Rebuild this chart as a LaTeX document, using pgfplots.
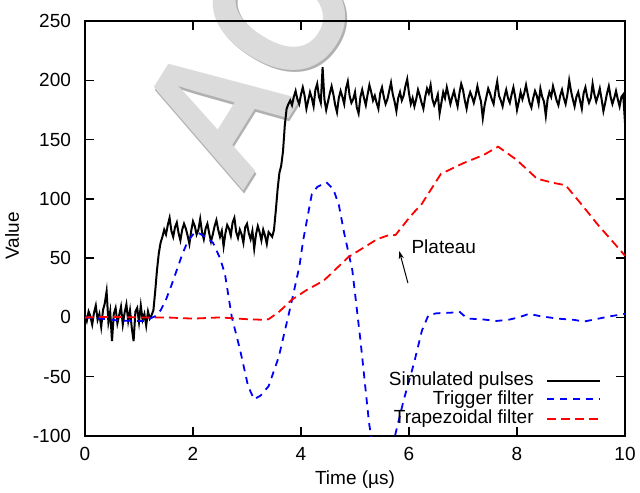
\documentclass[border=0pt]{standalone}
\usepackage{pgfplots}
\usepackage{pgfplotstable}
\pgfplotsset{compat=1.18}
\usetikzlibrary{arrows.meta}
\usepackage{fontspec}
\setmainfont{Liberation Sans}

% simulated detector pulse, sampled every 1/30 us
\pgfplotstableread[row sep=\\]{
y\\
2\\ -3\\ 5\\ 1\\ -6\\ 4\\ 10\\ -2\\ 3\\ -8\\
6\\ 12\\ 22\\ -4\\ 5\\ -20\\ 3\\ 8\\ -5\\ 2\\
9\\ -6\\ 4\\ 11\\ -3\\ 6\\ -9\\ -20\\ 5\\ 8\\
-4\\ 10\\ -2\\ 3\\ -7\\ 5\\ -1\\ 2\\
6\\ 22\\ 40\\ 54\\ 63\\ 68\\ 74\\
70\\ 78\\ 84\\ 73\\ 68\\ 76\\ 80\\ 71\\ 65\\ 74\\
79\\ 75\\ 69\\ 62\\ 73\\ 81\\ 77\\ 70\\ 74\\ 83\\
72\\ 66\\ 75\\ 79\\ 71\\ 64\\ 70\\ 77\\ 82\\ 74\\
68\\ 73\\ 60\\ 71\\ 78\\ 75\\ 69\\ 80\\ 84\\ 72\\
67\\ 74\\ 70\\ 63\\ 76\\ 79\\ 71\\ 66\\ 73\\ 58\\
70\\ 77\\ 72\\ 65\\ 74\\ 69\\ 62\\ 72\\ 70\\
68\\ 74\\ 90\\ 108\\ 122\\ 128\\ 140\\ 162\\ 176\\ 180\\ 183\\
179\\ 186\\ 191\\ 184\\ 180\\ 188\\ 194\\ 187\\ 176\\ 183\\
190\\ 185\\ 178\\ 192\\ 197\\ 186\\ 181\\ 211\\ 184\\ 175\\
182\\ 189\\ 195\\ 188\\ 179\\ 173\\ 185\\ 191\\ 186\\ 180\\
193\\ 199\\ 187\\ 181\\ 184\\ 190\\ 177\\ 172\\ 186\\ 192\\
185\\ 179\\ 188\\ 196\\ 190\\ 183\\ 187\\ 181\\ 176\\ 189\\
194\\ 186\\ 180\\ 184\\ 191\\ 198\\ 188\\ 182\\ 174\\ 185\\
190\\ 183\\ 187\\ 195\\ 201\\ 189\\ 180\\ 185\\ 178\\ 184\\
192\\ 187\\ 181\\ 176\\ 186\\ 193\\ 189\\ 196\\ 184\\ 179\\
183\\ 188\\ 172\\ 181\\ 190\\ 185\\ 194\\ 187\\ 180\\ 186\\
191\\ 184\\ 178\\ 189\\ 197\\ 192\\ 183\\ 176\\ 185\\ 190\\
186\\ 181\\ 187\\ 195\\ 188\\ 182\\ 168\\ 179\\ 186\\ 193\\
189\\ 184\\ 180\\ 191\\ 199\\ 187\\ 183\\ 178\\ 186\\ 192\\
185\\ 181\\ 188\\ 194\\ 186\\ 175\\ 182\\ 190\\ 184\\ 189\\
196\\ 188\\ 181\\ 177\\ 185\\ 191\\ 187\\ 180\\ 193\\ 186\\
182\\ 170\\ 184\\ 190\\ 186\\ 195\\ 189\\ 183\\ 179\\ 187\\
192\\ 185\\ 180\\ 188\\ 200\\ 191\\ 184\\ 178\\ 186\\ 190\\
183\\ 176\\ 189\\ 194\\ 186\\ 181\\ 185\\ 197\\ 188\\ 182\\
187\\ 193\\ 184\\ 174\\ 181\\ 189\\ 195\\ 186\\ 180\\ 185\\
191\\ 184\\ 178\\ 186\\ 188\\ 164\\
}\pulse

% fast (trigger) filter output
\pgfplotstableread{
x     y
0     0
0.3   -1
0.6   -2.5
0.9   -3
1.1   -3
1.2   -1
1.3   1
1.4   6
1.5   15
1.6   27
1.7   40
1.8   53
1.9   64
2.0   70
2.07  72
2.15  70
2.25  67
2.37  63
2.5   50
2.59  37
2.72  0
2.87  -27
3.02  -58
3.13  -69
3.25  -66
3.4   -58
3.59  -33
3.82  12
3.97  43
4.04  65
4.2   104
4.3   110
4.47  114
4.6   108
4.7   95
4.8   71
4.95  40
5.1   -19
5.26  -89
5.4   -130
5.55  -142
5.65  -125
5.75  -98
5.9   -70
6.09  -39
6.24  -11
6.36  2
6.51  3.5
6.78  4
6.93  5
7.08  -1
7.34  -1.5
7.61  -3
7.84  -2
8.03  0
8.22  3
8.44  1
8.75  -1
9.05  -2
9.24  -3.5
9.51  -1
9.73  1
10    3
}\trigger

% slow (trapezoidal) filter output
\pgfplotstableread{
x     y
0     0
0.5   0.5
1.0   0
1.5   0
2.0   -1
2.5   0
3.0   -1.5
3.3   -2
3.4   -1.5
3.6   5
3.82  14.6
4.1   23
4.42  31
4.88  51
5.2   60
5.41  66
5.6   69
5.75  69.5
6.02  85
6.24  96
6.59  121
7.0   130
7.38  137
7.65  144
7.99  133
8.37  117
8.67  113.5
8.9   111.5
9.2   95
9.5   78
9.81  62
10    52
}\trapezoid

\definecolor{trigblue}{rgb}{0,0,1}
\definecolor{trapred}{rgb}{1,0,0}
\tikzset{
  pulseline/.style={black, line width=1pt},
  trigline/.style={trigblue, line width=0.9pt, dash pattern=on 3.5pt off 3pt},
  trapline/.style={trapred, line width=0.9pt, dash pattern=on 4.5pt off 2.5pt},
  keytext/.style={anchor=east, inner sep=0pt, font=\fontsize{9.5}{11}\selectfont},
}

\begin{document}
\begin{tikzpicture}
\useasboundingbox (-42.5pt,-28pt) rectangle (277.5pt,218pt);

% watermark across the upper part of the figure
\begin{scope}
  \clip (-42.5pt,-28pt) rectangle (277.5pt,218pt);
  \node[rotate=58, xscale=0.85, anchor=base west, text=gray!62, inner sep=0pt,
        font=\fontsize{95}{95}\selectfont\bfseries] at (78.9pt,119.3pt) {ACCEPTED};
  \node[rotate=58, xscale=0.85, anchor=base west, text=gray!28, inner sep=0pt,
        font=\fontsize{95}{95}\selectfont\bfseries] at (78pt,120.4pt) {ACCEPTED};
\end{scope}

\begin{axis}[
  at={(0,0)}, anchor=south west,
  scale only axis, width=270pt, height=207.5pt,
  xmin=0, xmax=10, ymin=-100, ymax=250,
  xtick={0,2,...,10}, ytick={-100,-50,...,250},
  tick align=inside, major tick length=4.5pt,
  tick style={line width=0.7pt, black},
  axis line style={line width=1.1pt},
  /pgf/number format/assume math mode=true,
  ticklabel style={font=\fontsize{9.5}{11}\selectfont},
  yticklabel style={xshift=-3.5pt},
  xticklabel style={yshift=-2pt},
]
\addplot[pulseline] table[x expr=\coordindex/30, y=y] {\pulse};
\addplot[trigline] table[x=x, y=y] {\trigger};
\addplot[trapline] table[x=x, y=y] {\trapezoid};

\draw[-{Stealth[length=4pt,width=2.6pt]}, line width=0.5pt] (axis cs:5.98,29) -- (axis cs:5.82,56);
\node[anchor=west, inner sep=0pt, font=\fontsize{9.5}{11}\selectfont] at (axis cs:6.04,60) {Plateau};

% key, bottom right inside the frame
\node[keytext] at (axis cs:8.315,-53.6) {Simulated pulses};
\node[keytext] at (axis cs:8.315,-69.6) {Trigger filter};
\node[keytext] at (axis cs:8.315,-85.7) {Trapezoidal filter};
\end{axis}

% key samples
\draw[pulseline] (231pt,27.5pt) -- (257.5pt,27.5pt);
\draw[trigline] (231pt,18.5pt) -- (257.5pt,18.5pt);
\draw[trapline] (231pt,8.65pt) -- (257.5pt,8.65pt);

\node[font=\fontsize{9.5}{11}\selectfont] at (135pt,-22pt) {Time (\textmu s)};
\node[rotate=90, font=\fontsize{9.5}{11}\selectfont] at (-36.5pt,100pt) {Value};
\end{tikzpicture}
\end{document}
